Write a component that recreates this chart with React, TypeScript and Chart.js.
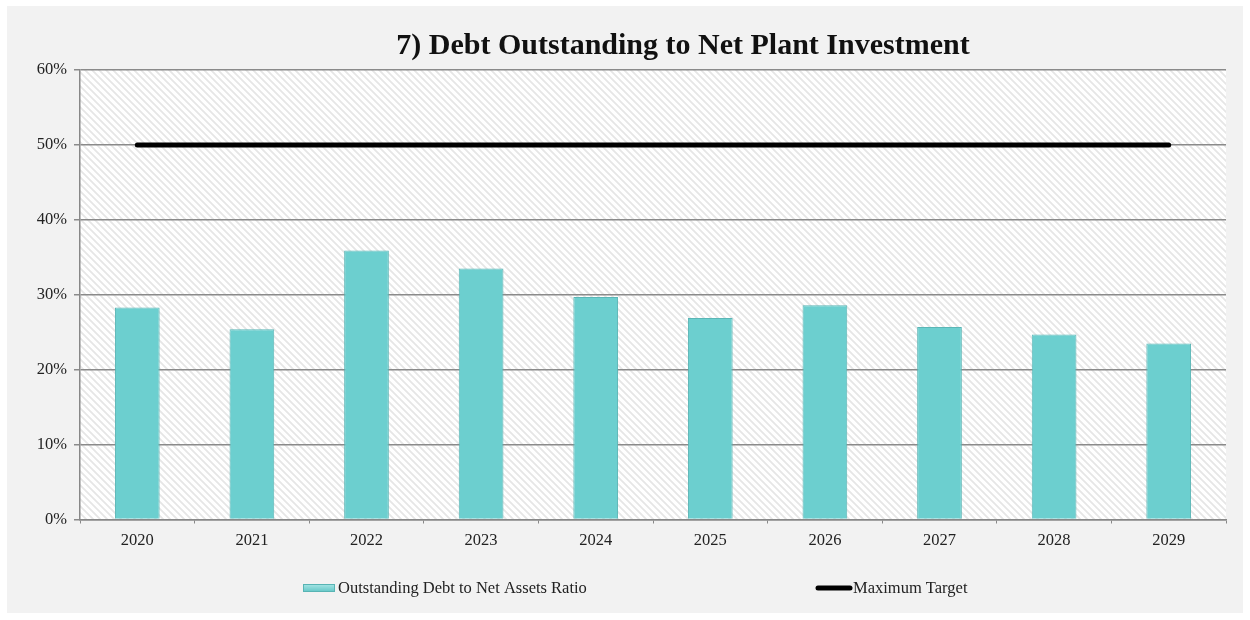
import React, { useEffect, useRef } from "react";
import { Chart, registerables } from "chart.js";

Chart.register(...registerables);

const TITLE = "7) Debt Outstanding to Net Plant Investment";
const categories = ["2020", "2021", "2022", "2023", "2024", "2025", "2026", "2027", "2028", "2029"];
const debtRatio = [28.3, 25.4, 35.9, 33.5, 29.7, 26.9, 28.6, 25.7, 24.7, 23.5];
const maxTarget = [50, 50, 50, 50, 50, 50, 50, 50, 50, 50];
const seriesLabels = ["Outstanding Debt to Net Assets Ratio", "Maximum Target"];

const FONT = "'Liberation Serif', 'Times New Roman', serif";

function makeHatch(): CanvasPattern | string {
  const c = document.createElement("canvas");
  c.width = 7;
  c.height = 7;
  const g = c.getContext("2d");
  if (!g) return "#fafafa";
  g.fillStyle = "#ffffff";
  g.fillRect(0, 0, 7, 7);
  g.strokeStyle = "#e6e6e6";
  g.lineWidth = 1.8;
  g.beginPath();
  g.moveTo(-1, -1);
  g.lineTo(8, 8);
  g.moveTo(-8, -1);
  g.lineTo(1, 8);
  g.moveTo(6, -1);
  g.lineTo(15, 8);
  g.stroke();
  const p = g.createPattern(c, "repeat");
  return p || "#fafafa";
}

const bgPlugin = {
  id: "hatchBg",
  beforeDraw(chart: any) {
    const { ctx, chartArea } = chart;
    ctx.save();
    ctx.fillStyle = makeHatch();
    ctx.fillRect(chartArea.left, chartArea.top, chartArea.right - chartArea.left, chartArea.bottom - chartArea.top);
    ctx.restore();
  },
};

const textPlugin = {
  id: "customText",
  afterDraw(chart: any) {
    const { ctx } = chart;
    ctx.save();
    // title
    ctx.fillStyle = "#111";
    ctx.font = `bold 30px ${FONT}`;
    ctx.textAlign = "center";
    ctx.textBaseline = "middle";
    ctx.fillText(TITLE, 676, 40);

    // legend
    const ly = 582;
    ctx.font = `16.5px ${FONT}`;
    ctx.textAlign = "left";
    const grad = ctx.createLinearGradient(0, ly - 4, 0, ly + 4);
    grad.addColorStop(0, "#a8e6e6");
    grad.addColorStop(1, "#62c6c6");
    ctx.fillStyle = grad;
    ctx.fillRect(296, ly - 4, 32, 8);
    ctx.strokeStyle = "#58b4b4";
    ctx.lineWidth = 1;
    ctx.strokeRect(296.5, ly - 3.5, 31, 7);
    ctx.fillStyle = "#222";
    ctx.fillText(seriesLabels[0], 331, ly + 1);

    ctx.strokeStyle = "#000";
    ctx.lineWidth = 5;
    ctx.lineCap = "round";
    ctx.beginPath();
    ctx.moveTo(811, ly);
    ctx.lineTo(843, ly);
    ctx.stroke();
    ctx.fillText(seriesLabels[1], 846, ly + 1);
    ctx.restore();
  },
};

export default function App() {
  const ref = useRef<HTMLCanvasElement | null>(null);

  useEffect(() => {
    if (!ref.current) return;
    const chart = new Chart(ref.current, {
      type: "bar",
      data: {
        labels: categories,
        datasets: [
          {
            type: "line",
            label: seriesLabels[1],
            data: maxTarget,
            borderColor: "#000",
            borderWidth: 5,
            borderCapStyle: "round",
            pointRadius: 0,
            fill: false,
            order: 0,
          } as any,
          {
            type: "bar",
            label: seriesLabels[0],
            data: debtRatio,
            backgroundColor: "#6ccfcf",
            borderColor: "#5bb6b6",
            borderWidth: 1,
            barPercentage: 0.39,
            categoryPercentage: 1,
            order: 1,
          },
        ],
      },
      options: {
        animation: false,
        responsive: false,
        maintainAspectRatio: false,
        layout: { padding: { left: 0, right: 17, top: 64, bottom: 0 } },
        plugins: {
          legend: { display: false },
          title: { display: false },
          tooltip: { enabled: false },
        },
        scales: {
          x: {
            offset: true,
            grid: {
              display: true,
              drawOnChartArea: false,
              drawTicks: true,
              tickLength: 4,
              color: "#888",
              offset: true,
            },
            border: { display: true, color: "#888", width: 1.5 },
            ticks: {
              color: "#222",
              font: { family: FONT, size: 16.5 },
              padding: 7,
              maxRotation: 0,
            },
            afterFit(scale: any) {
              scale.height = 93.5;
            },
          },
          y: {
            min: 0,
            max: 60,
            grid: {
              color: "#8a8a8a",
              lineWidth: 1.5,
              tickLength: 6,
            },
            border: { display: true, color: "#888", width: 1.5 },
            ticks: {
              stepSize: 10,
              color: "#222",
              font: { family: FONT, size: 16.5 },
              padding: 7,
              callback: (v: any) => `${v}%`,
            },
            afterFit(scale: any) {
              scale.width = 73;
            },
          },
        },
      },
      plugins: [bgPlugin, textPlugin],
    });
    return () => chart.destroy();
  }, []);

  return (
    <div style={{ position: "absolute", left: 7, top: 6, width: 1236, height: 607, background: "#f2f2f2" }}>
      <canvas ref={ref} width={1236} height={607} style={{ display: "block" }} />
    </div>
  );
}
